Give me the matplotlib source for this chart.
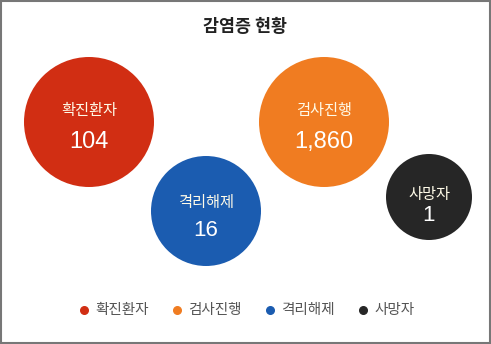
import numpy as np
import matplotlib.pyplot as plt
from matplotlib.patches import Circle, Rectangle

plt.rcParams['font.family'] = ['Noto Sans CJK KR', 'DejaVu Sans']

# data
categories = ['확진환자', '검사진행', '격리해제', '사망자']
values = [104, 1860, 16, 1]
colors = ['#d12e13', '#f07c21', '#1b5cb0', '#262626']

# layout (pixels): centre x, centre y, radius, text offsets
cx = [89, 324, 206, 429]
cy = [122, 122, 211, 197]
rad = [65, 65, 55, 43]
lab_off = [-11, -11, -8, -3]
num_base = [26, 26, 25, 24]
num_size = [17, 17, 16, 16]

W, H = 491, 344
fig = plt.figure(figsize=(W / 100, H / 100), dpi=100)
ax = fig.add_axes([0, 0, 1, 1])
ax.set_xlim(0, W)
ax.set_ylim(H, 0)
ax.set_aspect('equal')
ax.axis('off')

# frame
ax.add_patch(Rectangle((1, 1), W - 2, H - 2, fill=False, ec='#777777', lw=1.5))

ax.text(W / 2, 27, '감염증 현황', ha='center', va='center',
        fontsize=12.5, fontweight='bold', color='#222222')

for i, (cat, val) in enumerate(zip(categories, values)):
    ax.add_patch(Circle((cx[i], cy[i]), rad[i], color=colors[i], lw=0))
    ax.text(cx[i], cy[i] + lab_off[i], cat, ha='center', va='center',
            fontsize=11, color='#fffbe8')
    ax.text(cx[i], cy[i] + num_base[i], f'{val:,}', ha='center', va='baseline',
            fontsize=num_size[i], color='white', family='Liberation Sans')

# legend
handles = [ax.scatter([], [], s=30, color=c) for c in colors]
leg = ax.legend(handles, categories, loc='center', bbox_to_anchor=(0.5, 1 - 310 / H),
                ncol=4, frameon=False, fontsize=10.5, handletextpad=0.3,
                columnspacing=1.4, handlelength=1.0)
for t in leg.get_texts():
    t.set_color('#555555')

fig.savefig('out.png', dpi=100)
